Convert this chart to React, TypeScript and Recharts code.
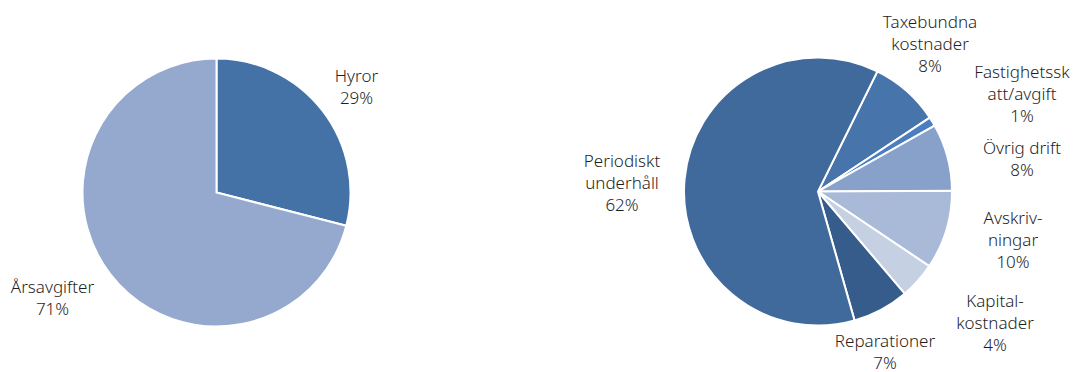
import React from 'react';
import { PieChart, Pie, Cell } from 'recharts';

// left pie: income
const incomeNames = ['Hyror', 'Årsavgifter'];
const incomeValues = [29, 71];
const incomeLabels = [['Hyror'], ['Årsavgifter']];
const incomeColors = ['#4472a6', '#95a9cf'];

// right pie: costs (clockwise, starting at Taxebundna)
const costNames = [
  'Taxebundna kostnader',
  'Fastighetsskatt/avgift',
  'Övrig drift',
  'Avskrivningar',
  'Kapitalkostnader',
  'Reparationer',
  'Periodiskt underhåll',
];
const costValues = [8.4, 1.1, 8.1, 9.5, 4.4, 6.8, 61.7];
const costLabels = [
  ['Taxebundna', 'kostnader'],
  ['Fastighetssk', 'att/avgift'],
  ['Övrig drift'],
  ['Avskriv-', 'ningar'],
  ['Kapital-', 'kostnader'],
  ['Reparationer'],
  ['Periodiskt', 'underhåll'],
];
const costColors = ['#4674ab', '#4b7ec0', '#87a1cb', '#a9b9d8', '#c5d0e3', '#355c8a', '#406a9c'];

const incomeData = incomeNames.map((name, i) => ({ name, value: incomeValues[i], lines: incomeLabels[i] }));
const costData = costNames.map((name, i) => ({ name, value: costValues[i], lines: costLabels[i] }));

// label placement relative to pie centre (x centre, first baseline)
const labelOffset: Record<string, [number, number]> = {
  'Hyror': [140, -111],
  'Årsavgifter': [-164, 100],
  'Taxebundna kostnader': [112, -164],
  'Fastighetsskatt/avgift': [204, -114],
  'Övrig drift': [204, -38],
  'Avskrivningar': [195, 32],
  'Kapitalkostnader': [177, 115],
  'Reparationer': [67, 155],
  'Periodiskt underhåll': [-196, -25],
};

const renderLabel = (total: number) => (props: any) => {
  const { cx, cy, payload, value } = props;
  const name = payload?.name ?? props.name;
  const lines: string[] = payload?.lines ?? props.lines ?? [name];
  const off = labelOffset[name] || [0, 0];
  const x = cx + off[0];
  const y = cy + off[1];
  const pct = Math.round((value / total) * 100) + '%';
  return (
    <text x={x} y={y} textAnchor="middle" fill="#1f1f1f" fontSize={17} fontWeight={300} fontFamily="'Noto Sans', sans-serif">
      {[...lines, pct].map((t, i) => (
        <tspan key={i} x={x} dy={i === 0 ? 0 : 22}>{t}</tspan>
      ))}
    </text>
  );
};

const sum = (a: number[]) => a.reduce((s, v) => s + v, 0);

const App = () => {
  return (
    <div style={{ position: 'absolute', left: 0, top: 0, width: 1075, height: 372, background: '#fff' }}>
      <PieChart width={1075} height={372} margin={{ top: 0, right: 0, bottom: 0, left: 0 }}>
        <Pie
          data={incomeData}
          dataKey="value"
          nameKey="name"
          cx={216.5}
          cy={192.5}
          outerRadius={134}
          startAngle={90}
          endAngle={-270}
          stroke="#fff"
          strokeWidth={2}
          labelLine={false}
          label={renderLabel(sum(incomeValues))}
          isAnimationActive={false}
        >
          {incomeData.map((d, i) => (
            <Cell key={d.name} fill={incomeColors[i]} />
          ))}
        </Pie>
        <Pie
          data={costData}
          dataKey="value"
          nameKey="name"
          cx={818}
          cy={191.5}
          outerRadius={134}
          startAngle={63.7}
          endAngle={-296.3}
          stroke="#fff"
          strokeWidth={2}
          labelLine={false}
          label={renderLabel(sum(costValues))}
          isAnimationActive={false}
        >
          {costData.map((d, i) => (
            <Cell key={d.name} fill={costColors[i]} />
          ))}
        </Pie>
      </PieChart>
    </div>
  );
};

export default App;
